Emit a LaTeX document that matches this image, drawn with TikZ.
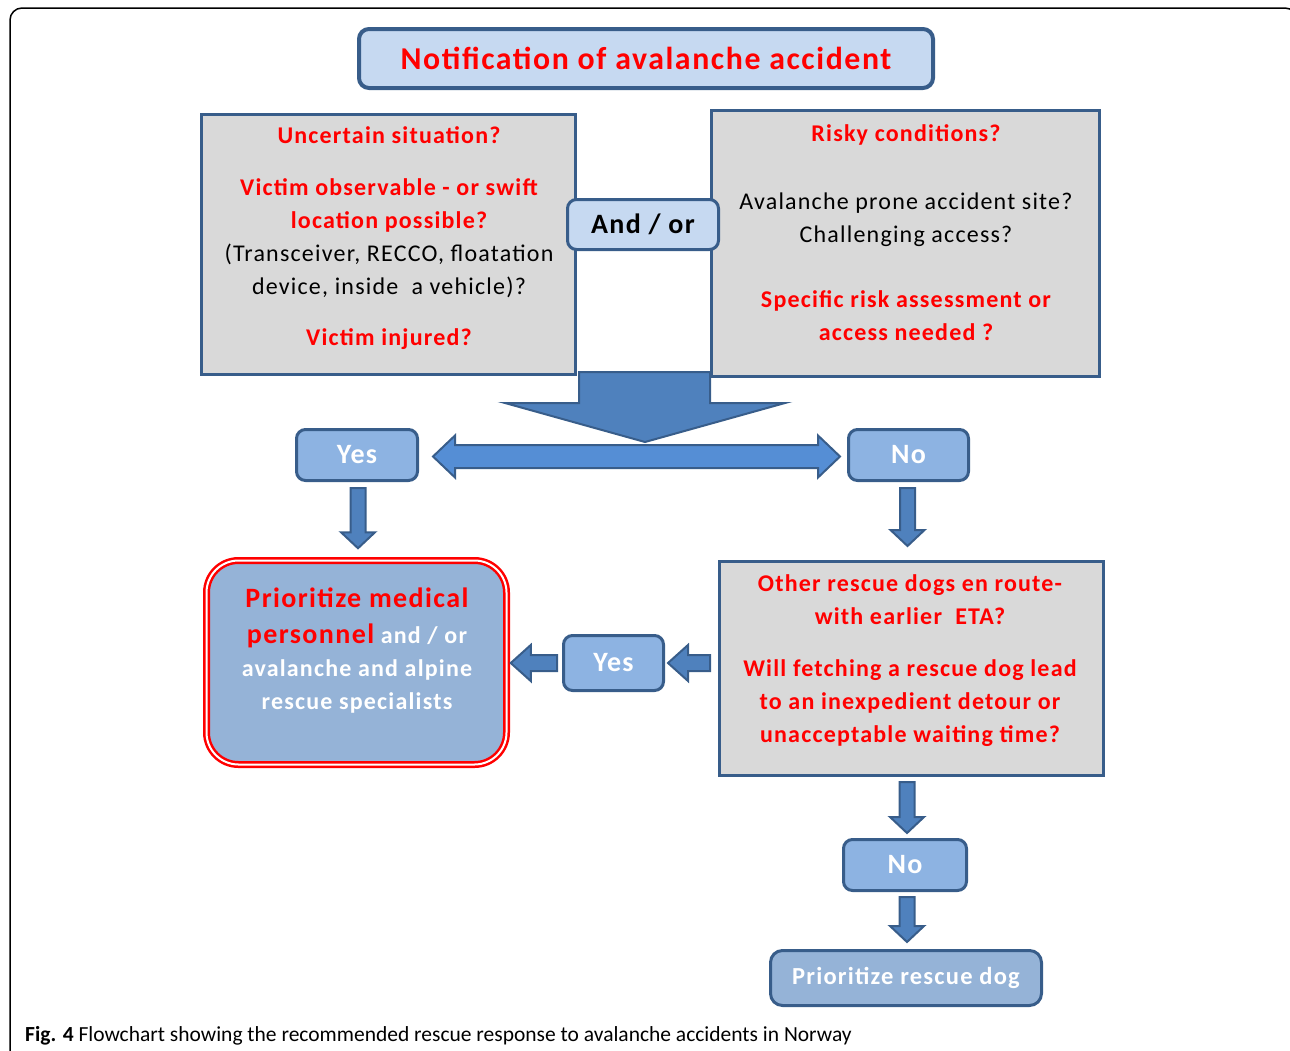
\documentclass[tikz,border=0pt]{standalone}
\usepackage{fontspec}
\setmainfont{Carlito}[LetterSpace=5]
\newfontfamily\captionfont{Carlito}
\usetikzlibrary{calc,positioning}

\definecolor{borderblue}{HTML}{385D8A}
\definecolor{titlefill}{HTML}{C6D9F1}
\definecolor{grayfill}{HTML}{D9D9D9}
\definecolor{arrowblue}{HTML}{4F81BD}
\definecolor{barblue}{HTML}{558ED5}
\definecolor{answerfill}{HTML}{8DB3E2}
\definecolor{actionfill}{HTML}{95B3D7}
\definecolor{alertred}{HTML}{FF0000}

\tikzset{
  graybox/.style={draw=borderblue, fill=grayfill, line width=3pt, inner sep=0pt},
  boxtext/.style={align=center, inner sep=0pt, font=\fontsize{24}{33}\selectfont},
  answer/.style={draw=borderblue, fill=answerfill, line width=3pt, rounded corners=9pt,
    inner sep=0pt, text=white, font=\bfseries\fontsize{28}{32}\selectfont},
  action/.style={draw=borderblue, fill=actionfill, line width=3pt, rounded corners=12pt,
    inner sep=0pt, text=white, font=\bfseries\fontsize{24.5}{30}\selectfont},
  blockarrow/.style={fill=arrowblue, draw=borderblue, line width=2pt, line join=miter},
  bararrow/.style={fill=barblue, draw=borderblue, line width=2pt, line join=miter},
}

% block arrow pointing down, from top point #1 to tip #2
\newcommand{\downblock}[2]{%
  \draw[blockarrow] let \p1=(#1), \p2=(#2) in
    (\x1-7.5pt,\y1) -- (\x1+7.5pt,\y1) -- (\x1+7.5pt,\y2+16pt) -- (\x1+17pt,\y2+16pt)
    -- (\x1,\y2) -- (\x1-17pt,\y2+16pt) -- (\x1-7.5pt,\y2+16pt) -- cycle;}
% block arrow pointing left, from tail #1 to tip #2
\newcommand{\leftblock}[2]{%
  \draw[blockarrow] let \p1=(#1), \p2=(#2) in
    (\x1,\y1+8pt) -- (\x2+20pt,\y1+8pt) -- (\x2+20pt,\y1+18pt) -- (\x2,\y1)
    -- (\x2+20pt,\y1-18pt) -- (\x2+20pt,\y1-8pt) -- (\x1,\y1-8pt) -- cycle;}

\begin{document}
\begin{tikzpicture}[x=1pt, y=-1pt]
  \useasboundingbox (0,0) rectangle (1290,1050);
  \clip (0,0) rectangle (1290,1050);

  % frame
  \draw[line width=1.5pt, rounded corners=12pt] (10,1080) -- (10,8) -- (1297,8) -- (1297,1080);

  % top
  \node[draw=borderblue, fill=titlefill, line width=4pt, rounded corners=10pt, inner sep=0pt,
    minimum width=574, minimum height=59, text=alertred,
    font=\bfseries\fontsize{31.8}{36}\selectfont] (notify) at (646,58.5) {Notification of avalanche accident};

  \node[graybox, minimum width=374, minimum height=260] (uncertain) at (388.5,244.5) {};
  \node[boxtext] (uncertaintext) at (389,238) {%
    {\color{alertred}\bfseries Uncertain situation?}\\[19pt]
    {\color{alertred}\bfseries Victim observable - or swift}\\
    {\color{alertred}\bfseries location possible?}\\
    (Transceiver, RECCO, floatation\\
    device, inside\ \ a vehicle)?\\[18pt]
    {\color{alertred}\bfseries Victim injured?}};

  \node[graybox, minimum width=388, minimum height=266] (risky) at (905.5,243.5) {};
  \node[boxtext] (riskytext) at (906,233) {%
    {\color{alertred}\bfseries Risky conditions?}\\[35pt]
    Avalanche prone accident site?\\
    Challenging access?\\[32pt]
    {\color{alertred}\bfseries Specific risk assessment or}\\
    {\color{alertred}\bfseries access needed ?}};

  \node[draw=borderblue, fill=titlefill, line width=3pt, rounded corners=9pt, inner sep=0pt,
    minimum width=151, minimum height=50, font=\bfseries\fontsize{28}{32}\selectfont] (andor) at (643,224.5) {And / or};

  % fork
  \coordinate (fork) at (645,442);
  \draw[blockarrow] ($(fork)+(-66,-70)$) -- ($(fork)+(65,-70)$) -- ($(fork)+(65,-39)$)
    -- ($(fork)+(140,-39)$) -- (fork) -- ($(fork)+(-140,-39)$) -- ($(fork)+(-66,-39)$) -- cycle;

  \node[answer, minimum width=121, minimum height=51] (yes1) at (357,455) {Yes};
  \node[answer, minimum width=120, minimum height=51] (no1) at (908.5,455) {No};

  \draw[bararrow] let \p1=($(yes1.east)+(14,1.5)$), \p2=($(no1.west)+(-7,1.5)$) in
    (\x1,\y1) -- (\x1+22pt,\y1+21pt) -- (\x1+22pt,\y1+11.5pt) -- (\x2-22pt,\y1+11.5pt)
    -- (\x2-22pt,\y1+21pt) -- (\x2,\y1) -- (\x2-22pt,\y1-21pt) -- (\x2-22pt,\y1-11.5pt)
    -- (\x1+22pt,\y1-11.5pt) -- (\x1+22pt,\y1-21pt) -- cycle;

  % left branch
  \node[draw=alertred, double=white, double distance=2pt, line width=2.5pt, fill=actionfill,
    rounded corners=32pt, inner sep=0pt, minimum width=300, minimum height=204] (medical) at (356.5,662.5) {};
  \node[align=center, inner sep=0pt, text=white, font=\bfseries\fontsize{24}{33}\selectfont] (medicaltext) at (357,651) {%
    {\color{alertred}\fontsize{28}{36}\selectfont Prioritize medical}\\[3pt]
    {\color{alertred}\fontsize{28}{36}\selectfont personnel} and / or\\
    avalanche and alpine\\
    rescue specialists};

  \downblock{$(yes1.south)+(1,6)$}{$(yes1.south |- medical.north)+(1,-11)$}

  % right branch
  \node[graybox, minimum width=384, minimum height=214] (otherdogs) at (911.5,668.5) {};
  \node[boxtext, text=alertred, font=\bfseries\fontsize{24}{33}\selectfont] (otherdogstext) at (910,661) {%
    Other rescue dogs en route-\\
    with earlier\ \ ETA?\\[19pt]
    Will fetching a rescue dog lead\\
    to an inexpedient detour or\\
    unacceptable waiting time?};

  \downblock{$(no1.south)+(-1,6)$}{$(no1.south |- otherdogs.north)+(-1,-14)$}

  \node[answer, minimum width=100, minimum height=55] (yes2) at (613.5,663) {Yes};
  \leftblock{$(otherdogs.west)+(-8,-5.5)$}{$(yes2.east)+(3,0)$}
  \leftblock{$(yes2.west)+(-5,0)$}{$(medical.east)+(3,0)$}

  \node[answer, minimum width=123, minimum height=51] (no2) at (905,865) {No};
  \downblock{$(no2.north |- otherdogs.south)+(2,5)$}{$(no2.north)+(2,-5)$}

  \node[action, minimum width=271, minimum height=55] (rescuedog) at (906,978) {Prioritize rescue dog};
  \downblock{$(no2.south)+(2,5)$}{$(no2.south |- rescuedog.north)+(2,-7)$}

  % caption
  \node[anchor=base west, inner sep=0pt, font=\captionfont\fontsize{21.5}{24}\selectfont] (caption) at (25,1041)
    {\textbf{Fig. 4} Flowchart showing the recommended rescue response to avalanche accidents in Norway};
\end{tikzpicture}
\end{document}
